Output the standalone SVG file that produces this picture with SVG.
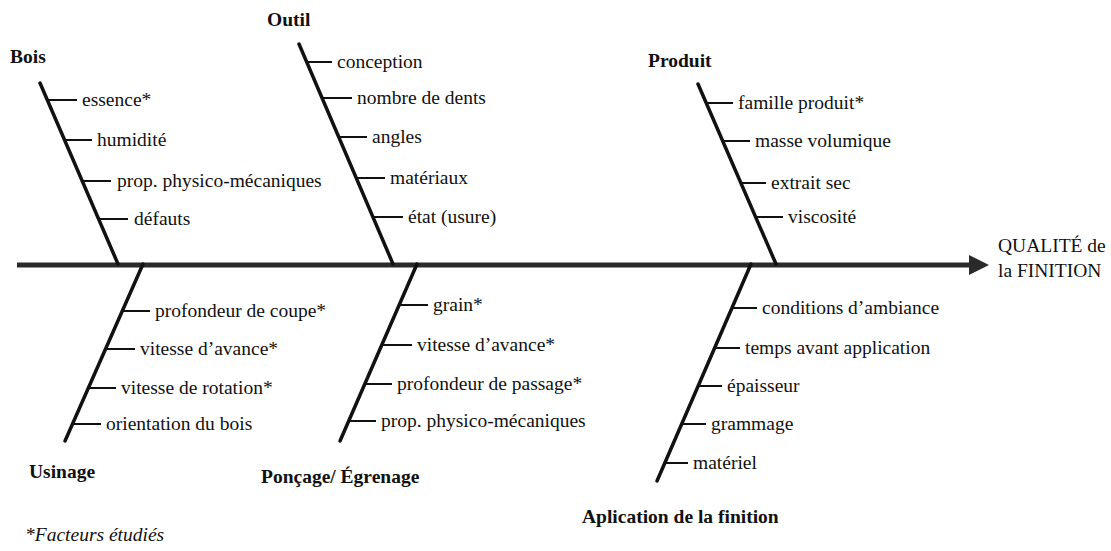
<svg xmlns="http://www.w3.org/2000/svg" width="1111" height="551" viewBox="0 0 1111 551">
<style>
text{font-family:'Liberation Serif',serif;font-size:19.5px;fill:#111}
.h{font-weight:bold}
.it{font-style:italic}
.bone{stroke:#111;stroke-width:3.5;fill:none;stroke-linecap:round}
.tick{stroke:#111;stroke-width:2;fill:none}
.spine{stroke:#2a2a2a;stroke-width:5;fill:none}
</style>
<rect width="1111" height="551" fill="#fff"/>
<g id="connectors">
<line class="spine" x1="17" y1="265" x2="972" y2="265"/>
<polygon points="969,255 989,265 969,275" fill="#2a2a2a"/>
<line class="bone" x1="40" y1="83" x2="118" y2="264"/>
<line class="bone" x1="299" y1="44" x2="393" y2="264"/>
<line class="bone" x1="698" y1="84" x2="776" y2="264"/>
<line class="bone" x1="143" y1="264" x2="65" y2="441"/>
<line class="bone" x1="417" y1="264" x2="340" y2="441"/>
<line class="bone" x1="751" y1="264" x2="657" y2="481"/>
<line class="tick" x1="47" y1="100" x2="77" y2="100"/>
<line class="tick" x1="64" y1="140" x2="92" y2="140"/>
<line class="tick" x1="82" y1="181" x2="111" y2="181"/>
<line class="tick" x1="98" y1="219" x2="128" y2="219"/>
<line class="tick" x1="307" y1="62" x2="332" y2="62"/>
<line class="tick" x1="323" y1="98" x2="352" y2="98"/>
<line class="tick" x1="340" y1="137" x2="367" y2="137"/>
<line class="tick" x1="357" y1="178" x2="385" y2="178"/>
<line class="tick" x1="374" y1="217" x2="403" y2="217"/>
<line class="tick" x1="706" y1="103" x2="733" y2="103"/>
<line class="tick" x1="723" y1="141" x2="750" y2="141"/>
<line class="tick" x1="741" y1="183" x2="766" y2="183"/>
<line class="tick" x1="756" y1="217" x2="783" y2="217"/>
<line class="tick" x1="122" y1="311" x2="150" y2="311"/>
<line class="tick" x1="106" y1="349" x2="135" y2="349"/>
<line class="tick" x1="88" y1="388" x2="116" y2="388"/>
<line class="tick" x1="72" y1="424" x2="101" y2="424"/>
<line class="tick" x1="398" y1="305" x2="428" y2="305"/>
<line class="tick" x1="381" y1="345" x2="412" y2="345"/>
<line class="tick" x1="364" y1="384" x2="392" y2="384"/>
<line class="tick" x1="348" y1="421" x2="376" y2="421"/>
<line class="tick" x1="732" y1="308" x2="757" y2="308"/>
<line class="tick" x1="715" y1="348" x2="740" y2="348"/>
<line class="tick" x1="698" y1="386" x2="722" y2="386"/>
<line class="tick" x1="681" y1="424" x2="706" y2="424"/>
<line class="tick" x1="664" y1="463" x2="688" y2="463"/>
</g>
<g id="effect">
<text x="998" y="252">QUALITÉ de</text>
<text x="998" y="277">la FINITION</text>
</g>
<g id="bois">
<text class="h" x="10" y="63">Bois</text>
<text x="82" y="106">essence*</text>
<text x="97" y="146">humidité</text>
<text x="117" y="187">prop. physico-mécaniques</text>
<text x="134" y="225">défauts</text>
</g>
<g id="outil">
<text class="h" x="267" y="26">Outil</text>
<text x="337" y="68">conception</text>
<text x="357" y="104">nombre de dents</text>
<text x="372" y="143">angles</text>
<text x="390" y="184">matériaux</text>
<text x="408" y="223">état (usure)</text>
</g>
<g id="produit">
<text class="h" x="648" y="67">Produit</text>
<text x="738" y="109">famille produit*</text>
<text x="755" y="147">masse volumique</text>
<text x="771" y="189">extrait sec</text>
<text x="788" y="223">viscosité</text>
</g>
<g id="usinage">
<text x="155" y="317">profondeur de coupe*</text>
<text x="140" y="355">vitesse d’avance*</text>
<text x="121" y="394">vitesse de rotation*</text>
<text x="106" y="430">orientation du bois</text>
<text class="h" x="29" y="478">Usinage</text>
</g>
<g id="poncage">
<text x="433" y="311">grain*</text>
<text x="417" y="351">vitesse d’avance*</text>
<text x="397" y="390">profondeur de passage*</text>
<text x="381" y="427">prop. physico-mécaniques</text>
<text class="h" x="261" y="483">Ponçage/ Égrenage</text>
</g>
<g id="application">
<text x="762" y="314">conditions d’ambiance</text>
<text x="745" y="354">temps avant application</text>
<text x="727" y="392">épaisseur</text>
<text x="711" y="430">grammage</text>
<text x="693" y="469">matériel</text>
<text class="h" x="582" y="523">Aplication de la finition</text>
</g>
<g id="note">
<text class="it" x="25" y="541">*Facteurs étudiés</text>
</g>
</svg>
